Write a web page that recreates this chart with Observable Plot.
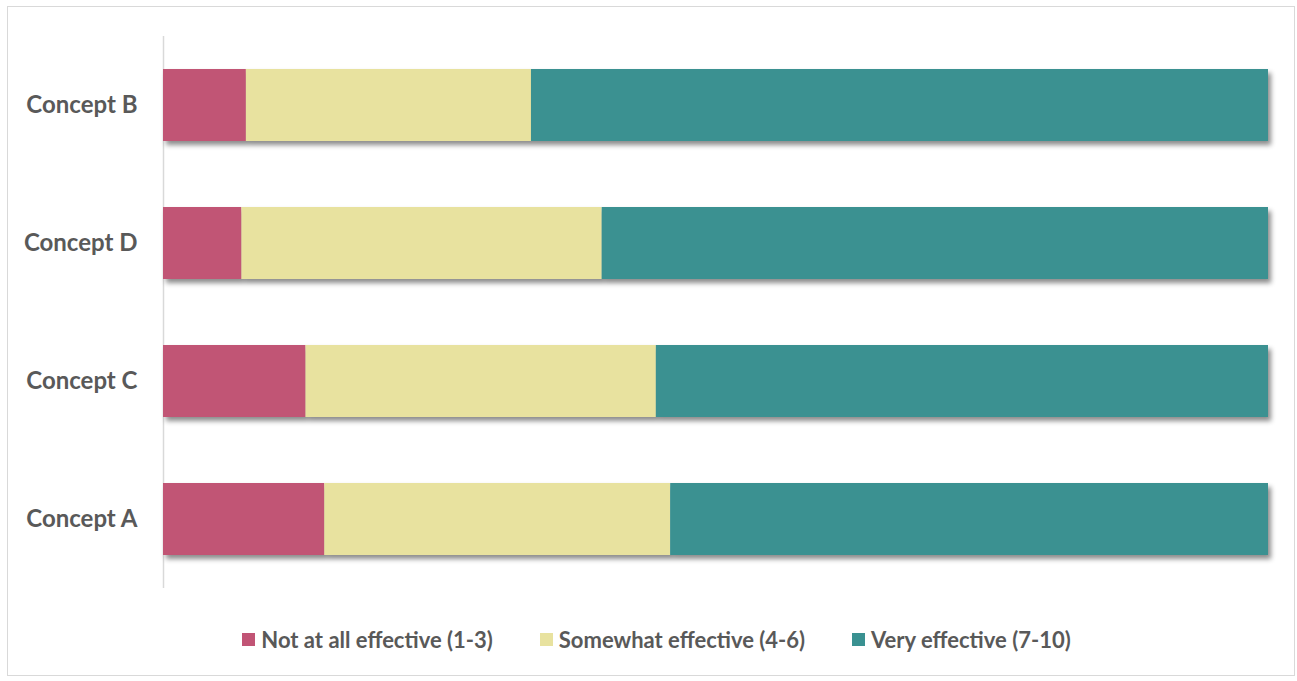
<!DOCTYPE html>
<html>
<head>
<meta charset="utf-8">
<script src="https://cdn.jsdelivr.net/npm/d3@7"></script>
<script src="https://cdn.jsdelivr.net/npm/@observablehq/plot@0.6"></script>
<style>
  html, body { margin: 0; padding: 0; background: #fff; }
  body { width: 1297px; height: 681px; position: relative; overflow: hidden; font-family: Lato, "Open Sans", sans-serif; }
  #frame { position: absolute; left: 7px; top: 6px; width: 1288px; height: 670px; border: 1px solid #d9d9d9; box-sizing: border-box; }
  #chart { position: absolute; left: 0; top: 0; }
  #legend { position: absolute; left: 0; top: 626px; width: 1297px; display: flex; justify-content: center; gap: 47px; padding-left: 16px; box-sizing: border-box;
            font-family: Lato, sans-serif; font-weight: bold; font-size: 22px; color: #595959; }
  .item { display: flex; align-items: center; gap: 6px; }
  .sw { width: 13px; height: 13px; display: inline-block; }
</style>
</head>
<body>
<div id="frame"></div>
<div id="chart"></div>
<div id="legend"></div>
<script>
const concepts = ["Concept B", "Concept D", "Concept C", "Concept A"];
const categories = ["Not at all effective (1-3)", "Somewhat effective (4-6)", "Very effective (7-10)"];
const colors = ["#c15475", "#e8e29f", "#3a9191"];
const notAtAll = [7.5, 7.1, 12.9, 14.6];
const somewhat = [25.8, 32.6, 31.7, 31.3];
const very = [66.7, 60.3, 55.4, 54.1];

const series = [notAtAll, somewhat, very];
const data = [];
concepts.forEach((c, i) => {
  categories.forEach((cat, j) => data.push({concept: c, category: cat, value: series[j][i]}));
});

const chart = Plot.plot({
  width: 1297,
  height: 600,
  marginLeft: 163,
  marginRight: 29,
  marginTop: 36,
  marginBottom: 12,
  style: {fontFamily: "Lato, sans-serif", fontSize: "24px", fontWeight: "bold", color: "#595959", background: "transparent"},
  x: {domain: [0, 100], axis: null},
  y: {domain: concepts, paddingInner: 0.478, paddingOuter: 0.239, label: null},
  color: {domain: categories, range: colors},
  marks: [
    Plot.ruleX([0], {stroke: "#d9d9d9", strokeWidth: 1.5}),
    Plot.barX(data, Plot.stackX({x: "value", y: "concept", fill: "category"})),
    Plot.axisY({tickSize: 0, tickPadding: 26, label: null})
  ]
});

// drop shadow for bars
const svg = d3.select(chart);
const defs = svg.insert("defs", ":first-child");
const f = defs.append("filter").attr("id", "shadow").attr("x", "-5%").attr("y", "-20%").attr("width", "115%").attr("height", "150%");
f.append("feDropShadow").attr("dx", 3).attr("dy", 4).attr("stdDeviation", 2.5).attr("flood-color", "#000").attr("flood-opacity", 0.45);
svg.selectAll('g[aria-label="bar"]').attr("filter", "url(#shadow)");

document.getElementById("chart").appendChild(chart);

const legend = d3.select("#legend");
categories.forEach((cat, j) => {
  const it = legend.append("div").attr("class", "item");
  it.append("span").attr("class", "sw").style("background", colors[j]);
  it.append("span").text(cat);
});
</script>
</body>
</html>
